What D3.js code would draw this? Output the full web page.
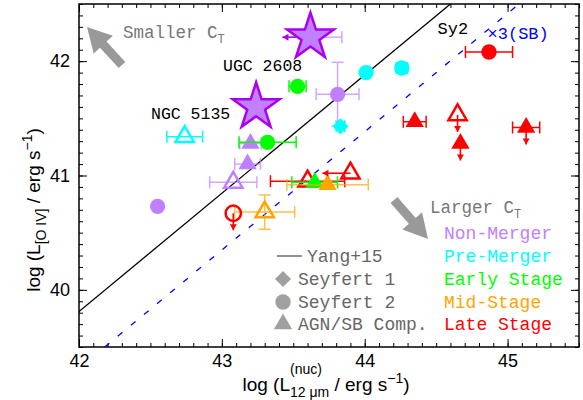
<!DOCTYPE html>
<html>
<head>
<meta charset="utf-8">
<script src="https://cdn.jsdelivr.net/npm/d3@7"></script>
<style>
  body { margin: 0; background: #fff; }
  .tick text { font-family: "Liberation Sans", Arial, sans-serif; font-size: 18px; fill: #000; }
  .mono { font-family: "Liberation Mono", "Courier New", monospace; }
</style>
</head>
<body>
<div id="scatter"></div>
<script>
// ---- data (drawing order) ----
const lum12  = [42.55, 43.08, 43.18, 43.20, 43.81, 43.62, 43.24, 42.74, 43.83, 44.01, 44.26,
                43.53, 43.32, 43.60, 43.65, 43.30, 43.74, 43.90, 43.08, 44.35, 44.65, 44.67, 45.13, 44.87];
const lumOIV = [40.73, 40.94, 41.10, 41.28, 41.71, 42.21, 41.60, 41.34, 41.43, 41.90, 41.94,
                41.78, 41.29, 40.95, 40.94, 40.68, 40.92, 41.02, 40.67, 41.47, 41.53, 41.28, 41.42, 42.08];
const errX   = [0, 0.165, 0.09, 0.075, 0.15, 0.22, 0, 0.125, 0.03, 0.03, 0.04,
                0.06, 0.20, 0.26, 0.16, 0.21, 0.285, 0, 0, 0.08, 0, 0, 0.095, 0.165];
const errY   = [0, 0, 0, 0, 0.28, 0, 0, 0, 0, 0, 0,
                0, 0, 0, 0, 0.15, 0, 0, 0, 0, 0, 0, 0, 0];
// 0 Non-Merger, 1 Pre-Merger, 2 Early, 3 Mid, 4 Late
const stage  = [0, 0, 0, 0, 0, 0, 0, 1, 1, 1, 1,
                2, 2, 4, 2, 3, 3, 4, 4, 4, 4, 4, 4, 4];
const agnType = ["sy2", "comp", "comp", "comp", "sy2", "star", "star", "comp", "sy1", "sy2", "sy2",
                 "sy2", "sy2", "comp", "comp", "comp", "comp", "comp", "sy2", "comp", "comp", "comp", "comp", "sy2"];
const hollow = [false, true, false, false, false, false, false, true, false, false, false,
                false, false, true, false, true, false, true, true, false, true, false, false, false];
const limit  = ["", "", "", "", "", "left", "", "", "", "", "",
                "", "", "", "", "", "", "left", "down", "", "down", "down", "down", ""];

const stageNames  = ["Non-Merger", "Pre-Merger", "Early Stage", "Mid-Stage", "Late Stage"];
const stageColors = ["#bf80ff", "#00ffff", "#00ff00", "#ffa500", "#ff0000"];
const typeNames   = ["Seyfert 1", "Seyfert 2", "AGN/SB Comp."];
const typeKeys    = ["sy1", "sy2", "comp"];

const xTicks = [42, 43, 44, 45];
const yTicks = [40, 41, 42];

// Yang+15 relation and the x3 (SB) shifted copy, end points
const yangX = [42.0, 44.6];
const yangY = [39.81, 42.5];
const sbX = [42.18, 45.08];
const sbY = [39.5, 42.5];

// named galaxies (the two stars)
const starNames = ["UGC 2608", "NGC 5135"];

// ---- layout ----
const svgWidth = 583;
const svgHeight = 400;
const chartMargin = { top: 4, right: 4, bottom: 53, left: 79 };
const chartWidth = svgWidth - chartMargin.left - chartMargin.right;
const chartHeight = svgHeight - chartMargin.top - chartMargin.bottom;

const svg = d3.select("#scatter")
  .append("svg")
  .attr("width", svgWidth)
  .attr("height", svgHeight);

const chartGroup = svg.append("g")
  .attr("transform", `translate(${chartMargin.left}, ${chartMargin.top})`);

const x = d3.scaleLinear().domain([42, 45.5]).range([0, chartWidth]);
const y = d3.scaleLinear().domain([39.5, 42.5]).range([chartHeight, 0]);

// clip for the relation lines
svg.append("defs").append("clipPath").attr("id", "plotclip")
  .append("rect").attr("width", chartWidth).attr("height", chartHeight);

// ---- axes (ticks inside, all four sides) ----
const minorX = d3.range(42, 45.51, 0.1);
const minorY = d3.range(39.5, 42.51, 0.1);

chartGroup.append("g")
  .attr("transform", `translate(0, ${chartHeight})`)
  .call(d3.axisBottom(x).tickValues(minorX).tickSize(-4).tickFormat(""));
chartGroup.append("g")
  .attr("transform", `translate(0, ${chartHeight})`)
  .call(d3.axisBottom(x).tickValues(xTicks).tickSize(-8).tickPadding(7).tickFormat(d3.format("d")));
chartGroup.append("g")
  .call(d3.axisTop(x).tickValues(minorX).tickSize(-4).tickFormat(""));
chartGroup.append("g")
  .call(d3.axisTop(x).tickValues(xTicks).tickSize(-8).tickFormat(""));

chartGroup.append("g")
  .call(d3.axisLeft(y).tickValues(minorY).tickSize(-4).tickFormat(""));
chartGroup.append("g")
  .call(d3.axisLeft(y).tickValues(yTicks).tickSize(-8).tickPadding(9).tickFormat(d3.format("d")));
chartGroup.append("g")
  .attr("transform", `translate(${chartWidth}, 0)`)
  .call(d3.axisRight(y).tickValues(minorY).tickSize(-4).tickFormat(""));
chartGroup.append("g")
  .attr("transform", `translate(${chartWidth}, 0)`)
  .call(d3.axisRight(y).tickValues(yTicks).tickSize(-8).tickFormat(""));

chartGroup.selectAll(".domain").remove();
chartGroup.selectAll(".tick line").attr("stroke", "#000").attr("stroke-width", 1);

chartGroup.append("rect")
  .attr("width", chartWidth)
  .attr("height", chartHeight)
  .attr("fill", "none")
  .attr("stroke", "#000")
  .attr("stroke-width", 1.5);

// ---- relation lines ----
const line = d3.line().x(d => x(d[0])).y(d => y(d[1]));
chartGroup.append("path")
  .attr("d", line(d3.zip(yangX, yangY)))
  .attr("clip-path", "url(#plotclip)")
  .attr("stroke", "#000").attr("stroke-width", 1.3).attr("fill", "none");
chartGroup.append("path")
  .attr("d", line(d3.zip(sbX, sbY)))
  .attr("clip-path", "url(#plotclip)")
  .attr("stroke", "#0000ff").attr("stroke-width", 1.3)
  .attr("stroke-dasharray", "6,11").attr("fill", "none");

chartGroup.append("text").attr("class", "mono")
  .attr("x", x(44.51)).attr("y", 30)
  .style("font-size", "17px").attr("fill", "#000")
  .text("Sy2");
chartGroup.append("text").attr("class", "mono")
  .attr("x", x(44.86)).attr("y", 35)
  .style("font-size", "17px").attr("fill", "#0000ff")
  .text("×3(SB)");

// ---- markers ----
const symbolFor = {
  sy1: d3.symbol().type(d3.symbolSquare).size(130),
  sy2: d3.symbol().type(d3.symbolCircle).size(185),
  comp: d3.symbol().type(d3.symbolTriangle).size(145),
  star: d3.symbol().type(d3.symbolStar).size(680)
};

const points = lum12.map((v, i) => ({
  x: v, y: lumOIV[i], ex: errX[i], ey: errY[i],
  color: stageColors[stage[i]], type: agnType[i], hollow: hollow[i], limit: limit[i]
}));

const capHalf = 6;
const arrowHead = (g, x1, y1, x2, y2, color) => {
  g.append("line").attr("x1", x1).attr("y1", y1).attr("x2", x2).attr("y2", y2)
    .attr("stroke", color).attr("stroke-width", 1.6);
  const ang = Math.atan2(y2 - y1, x2 - x1);
  const L = 6, W = 3.5;
  const p = [
    [x2, y2],
    [x2 - L * Math.cos(ang) + W * Math.sin(ang), y2 - L * Math.sin(ang) - W * Math.cos(ang)],
    [x2 - L * Math.cos(ang) - W * Math.sin(ang), y2 - L * Math.sin(ang) + W * Math.cos(ang)]
  ];
  g.append("path").attr("d", "M" + p.join("L") + "Z").attr("fill", color);
};

points.forEach(function (d) {
  const g = chartGroup.append("g");
  const cx = x(d.x), cy = y(d.y);
  const barColor = d.color;
  const barOpacity = (d.color === stageColors[0] || d.color === stageColors[3]) ? 0.7 : 1;
  const bars = g.append("g").attr("stroke", barColor).attr("stroke-width", 1.5).attr("opacity", barOpacity);

  if (d.ex > 0) {
    const xl = d.limit === "left" ? cx : x(d.x - d.ex);
    const xr = x(d.x + d.ex);
    bars.append("line").attr("x1", xl).attr("x2", xr).attr("y1", cy).attr("y2", cy);
    if (d.limit !== "left")
      bars.append("line").attr("x1", xl).attr("x2", xl).attr("y1", cy - capHalf).attr("y2", cy + capHalf);
    bars.append("line").attr("x1", xr).attr("x2", xr).attr("y1", cy - capHalf).attr("y2", cy + capHalf);
  }
  if (d.ey > 0) {
    const yt = y(d.y + d.ey), yb = y(d.y - d.ey);
    bars.append("line").attr("x1", cx).attr("x2", cx).attr("y1", yt).attr("y2", yb);
    bars.append("line").attr("x1", cx - capHalf).attr("x2", cx + capHalf).attr("y1", yt).attr("y2", yt);
    bars.append("line").attr("x1", cx - capHalf).attr("x2", cx + capHalf).attr("y1", yb).attr("y2", yb);
  }
  if (d.limit === "left") arrowHead(g, cx, cy, cx - 28, cy, d.type === "star" ? "#aa00ee" : d.color);
  if (d.limit === "down") arrowHead(g, cx, cy, cx, cy + 17, d.color);

  const mark = g.append("path")
    .attr("d", symbolFor[d.type]())
    .attr("transform", `translate(${cx}, ${cy})` + (d.type === "sy1" ? " rotate(45)" : ""));
  if (d.type === "star") {
    mark.attr("fill", "#c080ff").attr("stroke", "#aa00ee").attr("stroke-width", 2.5);
  } else if (d.hollow) {
    mark.attr("fill", "none").attr("stroke", d.color).attr("stroke-width", 2.5);
  } else {
    mark.attr("fill", d.color);
  }
});

// star labels
chartGroup.append("text").attr("class", "mono")
  .attr("x", 223 - chartMargin.left).attr("y", 71 - chartMargin.top)
  .style("font-size", "16.5px").attr("fill", "#000").text(starNames[0]);
chartGroup.append("text").attr("class", "mono")
  .attr("x", 151 - chartMargin.left).attr("y", 119 - chartMargin.top)
  .style("font-size", "16.5px").attr("fill", "#000").text(starNames[1]);

// ---- C_T arrows ----
const bigArrow = (x1, y1, x2, y2) => {
  const ang = Math.atan2(y2 - y1, x2 - x1);
  const len = Math.hypot(x2 - x1, y2 - y1);
  const hl = 24, hw = 13, sw = 4.5;
  const pts = [[0, -sw], [len - hl, -sw], [len - hl, -hw], [len, 0], [len - hl, hw], [len - hl, sw], [0, sw]];
  chartGroup.append("path")
    .attr("d", "M" + pts.join("L") + "Z")
    .attr("transform", `translate(${x1}, ${y1}) rotate(${ang * 180 / Math.PI})`)
    .attr("fill", "#999");
};
bigArrow(122 - chartMargin.left, 65 - chartMargin.top, 87 - chartMargin.left, 27 - chartMargin.top);
bigArrow(394 - chartMargin.left, 200 - chartMargin.top, 428 - chartMargin.left, 239 - chartMargin.top);

const ctText = (px, py, word) => {
  const t = chartGroup.append("text").attr("class", "mono")
    .attr("x", px - chartMargin.left).attr("y", py - chartMargin.top)
    .style("font-size", "17.5px").attr("fill", "#777");
  t.append("tspan").text(word + " C");
  t.append("tspan").attr("dy", 5).style("font-size", "12px").text("T");
};
ctText(123, 38, "Smaller");
ctText(430, 213, "Larger");

// ---- legend ----
const legendRows = [233, 256, 279, 302, 324];
const legendGroup = chartGroup.append("g").attr("class", "mono").style("font-size", "18px");

legendGroup.selectAll("text.stage")
  .data(stageNames)
  .enter()
  .append("text")
  .attr("class", "stage")
  .attr("x", 444 - chartMargin.left)
  .attr("y", (d, i) => legendRows[i] - chartMargin.top)
  .attr("dy", "0.35em")
  .attr("fill", (d, i) => stageColors[i])
  .text(d => d);

legendGroup.append("line")
  .attr("x1", 277 - chartMargin.left).attr("x2", 302 - chartMargin.left)
  .attr("y1", legendRows[1] - chartMargin.top).attr("y2", legendRows[1] - chartMargin.top)
  .attr("stroke", "#555").attr("stroke-width", 1.3);
legendGroup.append("text")
  .attr("x", 307 - chartMargin.left).attr("y", legendRows[1] - chartMargin.top)
  .attr("dy", "0.35em").attr("fill", "#666").text("Yang+15");

typeKeys.forEach(function (k, i) {
  const ly = legendRows[i + 2] - chartMargin.top;
  legendGroup.append("path")
    .attr("d", symbolFor[k]())
    .attr("transform", `translate(${283 - chartMargin.left}, ${ly})` + (k === "sy1" ? " rotate(45)" : ""))
    .attr("fill", "#a0a0a0");
  legendGroup.append("text")
    .attr("x", 298 - chartMargin.left).attr("y", ly)
    .attr("dy", "0.35em").attr("fill", "#666").text(typeNames[i]);
});

// ---- axis titles ----
const titleFont = "'Liberation Sans', Arial, sans-serif";
const xTitle = svg.append("text")
  .attr("x", 326).attr("y", 391)
  .attr("text-anchor", "middle")
  .style("font-family", titleFont).style("font-size", "19px");
xTitle.append("tspan").text("log (L");
xTitle.append("tspan").attr("dy", 6).style("font-size", "14px").text("12 μm");
xTitle.append("tspan").attr("dy", -6).text(" / erg s");
xTitle.append("tspan").attr("dy", -8).style("font-size", "14px").text("−1");
xTitle.append("tspan").attr("dy", 8).text(")");
const nucX = xTitle.node().getStartPositionOfChar(6).x;
svg.append("text")
  .attr("x", nucX).attr("y", 374)
  .style("font-family", titleFont).style("font-size", "14px")
  .text("(nuc)");

const yTitle = svg.append("text")
  .attr("transform", "translate(40, 210) rotate(-90)")
  .attr("text-anchor", "middle")
  .style("font-family", titleFont).style("font-size", "19px");
yTitle.append("tspan").text("log (L");
yTitle.append("tspan").attr("dy", 6).style("font-size", "14px").text("[O IV]");
yTitle.append("tspan").attr("dy", -6).text(" / erg s");
yTitle.append("tspan").attr("dy", -8).style("font-size", "14px").text("−1");
yTitle.append("tspan").attr("dy", 8).text(")");
</script>
</body>
</html>
